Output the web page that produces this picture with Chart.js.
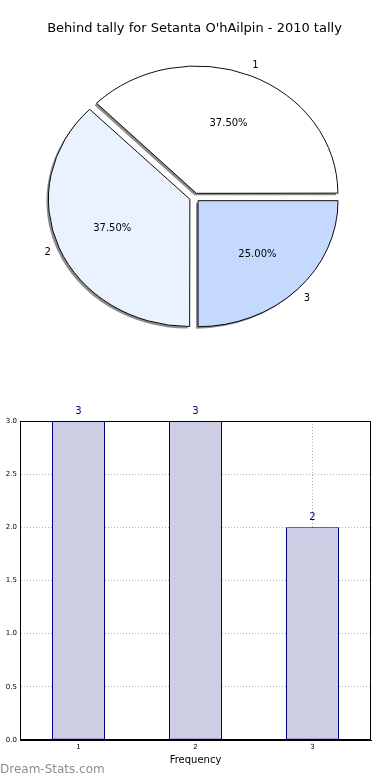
<!DOCTYPE html>
<html>
<head>
<meta charset="utf-8">
<script src="https://cdn.jsdelivr.net/npm/chart.js@4/dist/chart.umd.min.js"></script>
<style>
  html, body { margin: 0; padding: 0; background: #fff; }
  body { width: 390px; height: 780px; position: relative; overflow: hidden; font-family: "DejaVu Sans", sans-serif; }
  #pieWrap { position: absolute; left: 0; top: 0; width: 390px; height: 390px; }
  #barWrap { position: absolute; left: 0; top: 390px; width: 390px; height: 390px; }
  #wm { position: absolute; left: 0; top: 762px; font: 12px "DejaVu Sans", sans-serif; color: #8e8e8e; white-space: nowrap; }
</style>
</head>
<body>
<div id="pieWrap"><canvas id="pie" width="390" height="390"></canvas></div>
<div id="barWrap"><canvas id="bar" width="390" height="390"></canvas></div>
<div id="wm">Dream-Stats.com</div>
<script>
// ---- data ----
const titleText = "Behind tally for Setanta O'hAilpin - 2010 tally";
const categories = ["1", "2", "3"];
const tallyValues = [3, 3, 2];
const sliceColors = ["#ffffff", "#eaf2ff", "#c5d9ff"];
const yTicks = [0, 0.5, 1, 1.5, 2, 2.5, 3];
const xAxisTitle = "Frequency";

const FONT = "'DejaVu Sans', sans-serif";
const SQUISH = 0.9;

// pie drawn clockwise from east, so reverse order to mimic counter-clockwise layout
const pieLabels = categories.slice().reverse();
const pieValues = tallyValues.slice().reverse();
const pieColors = sliceColors.slice().reverse();
const total = tallyValues.reduce((a, b) => a + b, 0);

function squish(ctx, a) {
  ctx.translate(a.x, a.y);
  ctx.scale(1, SQUISH);
  ctx.translate(-a.x, -a.y);
}

const pieShape = {
  id: 'pieShape',
  beforeDatasetsDraw(chart) {
    const ctx = chart.ctx;
    const meta = chart.getDatasetMeta(0);
    const a = meta.data[0];
    // shadow pass: gray copies of each slice, shifted left/down
    ctx.save();
    ctx.translate(-2, 2);
    squish(ctx, a);
    meta.data.forEach(arc => {
      const ghost = Object.create(arc);
      ghost.options = Object.assign({}, arc.options, { borderWidth: 0, backgroundColor: 'rgba(0,0,0,0.45)' });
      ghost.draw(ctx);
    });
    ctx.restore();
    // main pass transform
    ctx.save();
    squish(ctx, a);
  },
  afterDatasetsDraw(chart) {
    const ctx = chart.ctx;
    ctx.restore();
    const meta = chart.getDatasetMeta(0);
    ctx.save();
    ctx.fillStyle = '#000';
    ctx.textAlign = 'center';
    ctx.textBaseline = 'middle';
    meta.data.forEach((arc, i) => {
      const mid = (arc.startAngle + arc.endAngle) / 2;
      const off = (arc.options.offset || 0) / 4;
      const R = arc.outerRadius;
      const pos = (k) => [arc.x + Math.cos(mid) * (off + k * R), arc.y + Math.sin(mid) * (off + k * R) * SQUISH];
      const [lx, ly] = pos(1.1);
      const [px, py] = pos(0.6);
      ctx.font = "10px " + FONT;
      ctx.fillText(pieLabels[i], lx, ly);
      ctx.fillText((pieValues[i] / total * 100).toFixed(2) + '%', px, py);
    });
    ctx.restore();
  }
};

new Chart(document.getElementById('pie'), {
  type: 'pie',
  data: {
    labels: pieLabels,
    datasets: [{
      data: pieValues,
      backgroundColor: pieColors,
      borderColor: '#000',
      borderWidth: 1,
      offset: 20,
      clip: false
    }]
  },
  options: {
    responsive: false,
    animation: false,
    events: [],
    rotation: 90,
    radius: 140,
    layout: { padding: { left: 0, right: 1, top: 0, bottom: 41.6 } },
    plugins: {
      legend: { display: false },
      tooltip: { enabled: false },
      title: {
        display: true,
        text: titleText,
        color: '#000',
        font: { family: FONT, size: 13, weight: 'normal', lineHeight: 1.2 },
        padding: { top: 21, bottom: 10 }
      }
    }
  },
  plugins: [pieShape]
});

const frameAndLabels = {
  id: 'frameAndLabels',
  afterDatasetsDraw(chart) {
    const ctx = chart.ctx;
    const meta = chart.getDatasetMeta(0);
    ctx.save();
    ctx.fillStyle = '#000080';
    ctx.font = "10px " + FONT;
    ctx.textAlign = 'center';
    ctx.textBaseline = 'middle';
    meta.data.forEach((bar, i) => {
      ctx.fillText(String(tallyValues[i]), bar.x, bar.y - 10);
    });
    ctx.restore();
  },
  afterDraw(chart) {
    const ctx = chart.ctx;
    const a = chart.chartArea;
    ctx.save();
    ctx.strokeStyle = '#000';
    ctx.lineWidth = 1;
    ctx.strokeRect(Math.round(a.left) + 0.5, Math.round(a.top) + 0.5, Math.round(a.right - a.left) - 1, Math.round(a.bottom - a.top) - 1);
    ctx.restore();
  }
};

new Chart(document.getElementById('bar'), {
  type: 'bar',
  data: {
    labels: categories,
    datasets: [{
      data: tallyValues,
      backgroundColor: '#cdcde4',
      borderColor: '#000080',
      borderWidth: 1,
      borderSkipped: false,
      barPercentage: 53 / 117,
      categoryPercentage: 1
    }]
  },
  options: {
    responsive: false,
    animation: false,
    events: [],
    layout: { padding: { left: 0, right: 19, top: 31, bottom: 0 } },
    plugins: { legend: { display: false }, tooltip: { enabled: false } },
    scales: {
      x: {
        offset: true,
        grid: { offset: false, color: '#b0b0b0', drawTicks: false, lineWidth: 1 },
        border: { display: true, color: '#000', width: 1, dash: [1, 2] },
        ticks: { color: '#000', font: { family: FONT, size: 7 }, padding: 3, maxRotation: 0 },
        title: { display: true, text: xAxisTitle, color: '#000', font: { family: FONT, size: 10 }, padding: { top: 0, bottom: 14 } },
        afterFit(s) { s.height = 40; }
      },
      y: {
        min: 0, max: 3,
        afterBuildTicks(s) { s.ticks = yTicks.map(v => ({ value: v })); },
        grid: { color: '#b0b0b0', drawTicks: false, lineWidth: 1 },
        border: { display: true, color: '#000', width: 1, dash: [1, 2] },
        ticks: { color: '#000', font: { family: FONT, size: 7 }, padding: 3, callback: v => Number(v).toFixed(1) },
        afterFit(s) { s.width = 20; }
      }
    }
  },
  plugins: [frameAndLabels]
});
</script>
</body>
</html>
